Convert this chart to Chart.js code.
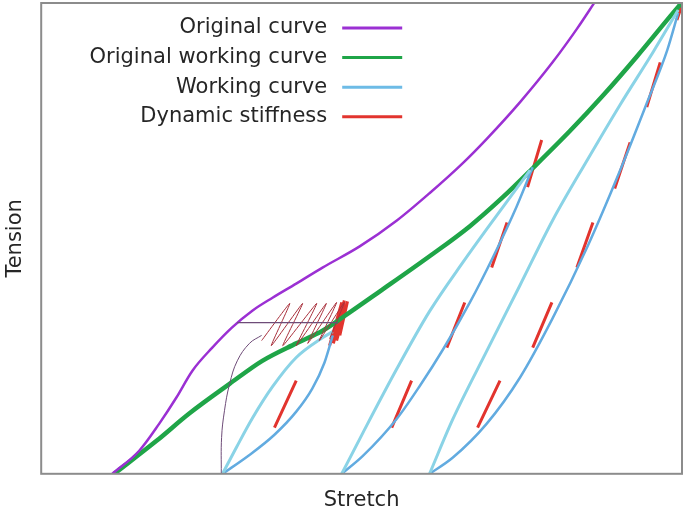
<!DOCTYPE html>
<html><head><meta charset="utf-8">
<script src="https://cdn.jsdelivr.net/npm/chart.js@4/dist/chart.umd.min.js"></script>
<style>html,body{margin:0;padding:0;background:#fff}canvas{display:block}</style>
</head><body>
<canvas id="c" width="683" height="518"></canvas>
<script>
// ---- data (Stretch 0..100, Tension 0..100) ----
const legendLabels = ['Original curve', 'Original working curve', 'Working curve', 'Dynamic stiffness'];
const axisTitles = { x: 'Stretch', y: 'Tension' };

const origX = [11.1, 15.3, 18.4, 21.1, 23.6, 26.7, 29.8, 33.0, 36.1, 39.8, 43.9, 49.7, 55.5, 60.6, 65.8, 69.5, 74.7, 79.8, 83.6, 86.1, 87.3];
const origY = [0, 4.9, 10.6, 16.2, 21.9, 26.8, 31.1, 34.7, 37.4, 40.4, 43.8, 48.3, 53.8, 59.6, 66.0, 71.1, 78.9, 87.4, 94.5, 99.6, 102.1];

const owcX = [11.4, 18.0, 23.1, 29.4, 34.5, 39.8, 43.9, 47.0, 52.8, 60.6, 66.9, 72.0, 76.7, 82.5, 87.7, 93.0, 98.6, 99.8];
const owcY = [0, 7.0, 12.8, 19.1, 24.0, 27.7, 30.4, 33.2, 38.7, 46.2, 52.6, 58.7, 64.9, 72.8, 80.4, 88.7, 97.9, 99.8];

// working curve loops: loading (upper) and unloading (lower) branches
const wc1UpX = [28.3, 30.5, 33.0, 36.1, 39.8, 43.9, 45.5];
const wc1UpY = [0, 5.7, 11.9, 18.5, 24.7, 28.9, 30.2];
const wc1LoX = [28.3, 32.5, 36.4, 39.8, 42.3, 44.2, 45.5];
const wc1LoY = [0, 4.0, 8.3, 13.2, 18.1, 23.6, 29.4];

const wc2UpX = [46.9, 50.2, 55.5, 60.6, 65.8, 71.1, 76.3];
const wc2UpY = [0, 8.7, 22.3, 34.5, 44.9, 54.9, 64.5];
const wc2LoX = [46.9, 50.2, 55.5, 59.1, 62.7, 66.9, 70.5, 74.2, 76.7];
const wc2LoY = [0, 3.8, 11.7, 18.7, 26.4, 36.4, 46.0, 56.8, 65.1];

const wc3UpX = [60.6, 64.2, 69.5, 74.7, 79.8, 85.2, 90.3, 95.5, 99.4];
const wc3UpY = [0, 11.5, 26.0, 40.0, 53.8, 66.6, 78.3, 89.6, 98.5];
const wc3LoX = [60.6, 64.2, 69.5, 74.7, 79.8, 85.2, 90.3, 94.5, 97.7, 99.4];
const wc3LoY = [0, 3.4, 10.6, 20.4, 33.0, 48.1, 64.3, 78.7, 90.0, 97.9];

// dynamic stiffness tangent dashes (null separates dashes)
const dsX = [36.4, 39.8, null, 54.7, 57.8, null, 63.3, 66.1, null, 70.3, 72.7, null, 75.9, 78.1, null,
             68.1, 71.6, null, 76.7, 79.7, null, 83.6, 86.1, null, 89.5, 91.9, null, 94.5, 96.6, null, 99.2, 100];
const dsY = [9.8, 19.8, null, 9.8, 19.8, null, 26.8, 36.4, null, 43.8, 53.4, null, 60.9, 70.9, null,
             9.8, 19.8, null, 26.8, 36.4, null, 43.8, 53.4, null, 60.6, 70.4, null, 77.9, 87.4, null, 96.4, 99.6];

// dense oscillation at the loading point
const denseX = [45.0, 46.9, 45.6, 47.3, 46.1, 47.8, 46.6];
const denseY = [27.2, 36.4, 27.7, 36.8, 28.3, 36.6, 29.4];

// thin oscillation trace
const zigX = [34.4, 38.8, 35.9, 40.8, 37.7, 43.0, 39.8, 44.5, 41.6, 46.1, 43.4, 47.3, 45.0];
const zigY = [28.3, 36.2, 27.2, 36.2, 27.2, 36.2, 27.2, 36.2, 27.7, 36.4, 28.3, 36.4, 28.7];

// thin construction lines
const arcX = [28.1, 28.15, 28.6, 29.4, 30.6, 32.5, 34.4];
const arcY = [0, 7.7, 13.4, 19.1, 24.0, 27.7, 29.4];
const hLineX = [30.6, 46.3];
const hLineY = [32.1, 32.1];

// ---- build ----
const pts = (xs, ys) => xs.map((x, i) => ({ x: x, y: ys[i] }));
const C = { purple: '#9B30D3', green: '#1FA548', cyan: '#8AD3E6', blue: '#62ABE0', red: '#E2342E', thin: '#6E4C78', zig: '#A8303C' };

function ds(data, color, width, tension, extra) {
  return Object.assign({ data: data, borderColor: color, borderWidth: width, pointRadius: 0, tension: tension, fill: false, spanGaps: false }, extra || {});
}
const mono = { cubicInterpolationMode: 'monotone' };

const datasets = [
  ds(pts(arcX, arcY), C.thin, 1, 0.4),
  ds(pts(hLineX, hLineY), C.thin, 1.2, 0),
  ds(pts(zigX, zigY), C.zig, 1, 0.15),
  ds(pts(wc1UpX, wc1UpY), C.cyan, 3, 0.4, mono),
  ds(pts(wc1LoX, wc1LoY), C.blue, 2.5, 0.4, mono),
  ds(pts(wc2UpX, wc2UpY), C.cyan, 3, 0.4, mono),
  ds(pts(wc2LoX, wc2LoY), C.blue, 2.5, 0.4, mono),
  ds(pts(wc3UpX, wc3UpY), C.cyan, 3, 0.4, mono),
  ds(pts(wc3LoX, wc3LoY), C.blue, 2.5, 0.4, mono),
  ds(pts(origX, origY), C.purple, 2.5, 0.4, { clip: 0, cubicInterpolationMode: 'monotone' }),
  ds(pts(owcX, owcY), C.green, 4.5, 0.4, mono),
  ds(pts(dsX, dsY), C.red, 3, 0),
  ds(pts(denseX, denseY), C.red, 3, 0)
];

const legendColors = [C.purple, C.green, '#6DBBE6', C.red];

const framePlugin = {
  id: 'frame',
  afterDatasetsDraw(chart) {
    const { ctx, chartArea: a } = chart;
    ctx.save();
    ctx.strokeStyle = '#8C8C8C';
    ctx.lineWidth = 2;
    ctx.strokeRect(a.left, a.top, a.right - a.left, a.bottom - a.top);
    ctx.restore();
  },
  afterDraw(chart) {
    const { ctx, chartArea: a } = chart;
    ctx.save();
    ctx.font = '21px "DejaVu Sans"';
    ctx.textAlign = 'right';
    ctx.textBaseline = 'middle';
    const textRight = a.left + 286;
    const lineL = a.left + 301, lineR = a.left + 361;
    legendLabels.forEach((lab, i) => {
      const y = a.top + 25 + i * 29.6;
      ctx.fillStyle = '#262626';
      ctx.fillText(lab, textRight, y);
      ctx.strokeStyle = legendColors[i];
      ctx.lineWidth = 3;
      ctx.beginPath();
      ctx.moveTo(lineL, y);
      ctx.lineTo(lineR, y);
      ctx.stroke();
    });
    ctx.restore();
  }
};

new Chart(document.getElementById('c'), {
  type: 'line',
  data: { datasets: datasets },
  plugins: [framePlugin],
  options: {
    responsive: false,
    animation: false,
    devicePixelRatio: 1,
    layout: { padding: { top: 3, right: 1, left: 0, bottom: 0 } },
    plugins: { legend: { display: false }, tooltip: { enabled: false } },
    scales: {
      x: {
        type: 'linear', min: 0, max: 100,
        ticks: { display: false },
        grid: { display: false, drawTicks: false },
        border: { display: false },
        title: { display: true, text: axisTitles.x, color: '#262626', font: { family: 'DejaVu Sans', size: 21 }, padding: { top: 14, bottom: 5 } }
      },
      y: {
        type: 'linear', min: 0, max: 100,
        ticks: { display: false },
        grid: { display: false, drawTicks: false },
        border: { display: false },
        title: { display: true, text: axisTitles.y, color: '#262626', font: { family: 'DejaVu Sans', size: 21 }, padding: { top: 3, bottom: 13 } }
      }
    }
  }
});
</script>
</body></html>
